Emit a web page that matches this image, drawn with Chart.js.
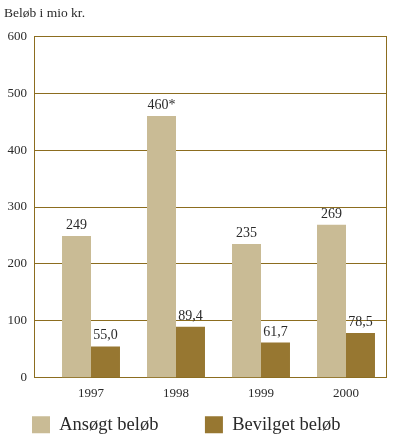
<!DOCTYPE html>
<html>
<head>
<meta charset="utf-8">
<script src="https://cdn.jsdelivr.net/npm/chart.js@4/dist/chart.umd.min.js"></script>
<style>
  html, body { margin: 0; padding: 0; background: #ffffff; }
  #wrap { width: 399px; height: 442px; }
</style>
</head>
<body>
<div id="wrap"><canvas id="c" width="399" height="442"></canvas></div>
<script>
const years = ['1997', '1998', '1999', '2000'];
const ansoegt = [249, 460, 235, 269];
const bevilget = [55.0, 89.4, 61.7, 78.5];
const ansoegtLabels = ['249', '460*', '235', '269'];
const bevilgetLabels = ['55,0', '89,4', '61,7', '78,5'];
const seriesNames = ['Ansøgt beløb', 'Bevilget beløb'];
const yTicks = [0, 100, 200, 300, 400, 500, 600];
const yTitle = 'Beløb i mio kr.';

const GOLD = '#8c6d1f';
const TEXT = '#2a2a2a';
const SERIF = '"Liberation Serif", "DejaVu Serif", serif';

const valueLabels = {
  id: 'valueLabels',
  afterDatasetsDraw(chart) {
    const ctx = chart.ctx;
    const all = [ansoegtLabels, bevilgetLabels];
    ctx.save();
    ctx.font = '14px ' + SERIF;
    ctx.fillStyle = TEXT;
    ctx.textAlign = 'center';
    ctx.textBaseline = 'alphabetic';
    chart.data.datasets.forEach((ds, i) => {
      chart.getDatasetMeta(i).data.forEach((el, j) => {
        ctx.fillText(all[i][j], el.x, el.y - 7);
      });
    });
    ctx.restore();
  }
};

new Chart(document.getElementById('c'), {
  type: 'bar',
  data: {
    datasets: [
      {
        label: seriesNames[0],
        data: ansoegt.map((v, i) => ({ x: i, y: v })),
        backgroundColor: '#c9bb95',
        categoryPercentage: 0.682,
        barPercentage: 1.0
      },
      {
        label: seriesNames[1],
        data: bevilget.map((v, i) => ({ x: i, y: v })),
        backgroundColor: '#977731',
        categoryPercentage: 0.682,
        barPercentage: 1.0
      }
    ]
  },
  options: {
    responsive: false,
    animation: false,
    devicePixelRatio: 1,
    layout: { padding: { left: 4, right: 13, top: 0, bottom: -2 } },
    plugins: {
      tooltip: { enabled: false },
      title: {
        display: true,
        text: yTitle,
        align: 'start',
        color: TEXT,
        font: { family: SERIF, size: 13.5, weight: 'normal' },
        padding: { top: 5, bottom: 15.2 }
      },
      legend: {
        position: 'bottom',
        align: 'start',
        title: {
          display: true,
          text: '',
          font: { size: 1 },
          padding: { top: -23, bottom: 0 }
        },
        labels: {
          boxWidth: 18,
          boxHeight: 17,
          padding: 28,
          color: TEXT,
          font: { family: SERIF, size: 18.5 },
          generateLabels(chart) {
            return chart.data.datasets.map((ds, i) => ({
              text: i === 0 ? ds.label + '\u00a0\u00a0\u00a0\u00a0' : ds.label,
              fillStyle: ds.backgroundColor,
              strokeStyle: ds.backgroundColor,
              lineWidth: 0,
              hidden: false,
              datasetIndex: i,
              fontColor: TEXT
            }));
          }
        }
      }
    },
    scales: {
      x: {
        type: 'linear',
        offset: false,
        bounds: 'data',
        min: -0.6706,
        max: 3.4706,
        afterBuildTicks(scale) { scale.ticks = years.map((_, i) => ({ value: i })); },
        grid: { display: false, drawTicks: false, offset: false },
        border: { display: true, color: GOLD, width: 1 },
        ticks: {
          autoSkip: false,
          maxRotation: 0,
          padding: 8,
          color: TEXT,
          font: { family: SERIF, size: 13 },
          callback: (v) => years[Math.round(v)]
        }
      },
      y: {
        min: 0,
        max: 600,
        afterFit(scale) { scale.width = 30; },
        afterBuildTicks(scale) { scale.ticks = yTicks.map(v => ({ value: v })); },
        grid: { color: GOLD, lineWidth: 1, drawTicks: false },
        border: { display: true, color: GOLD, width: 1 },
        ticks: {
          padding: 7,
          color: TEXT,
          font: { family: SERIF, size: 13 },
          callback: (v) => String(v)
        }
      },
      y2: {
        position: 'right',
        min: 0,
        max: 600,
        afterFit(scale) { scale.width = 0; },
        grid: { display: false, drawTicks: false },
        border: { display: true, color: GOLD, width: 1 },
        ticks: { display: false }
      }
    }
  },
  plugins: [valueLabels]
});
</script>
</body>
</html>
